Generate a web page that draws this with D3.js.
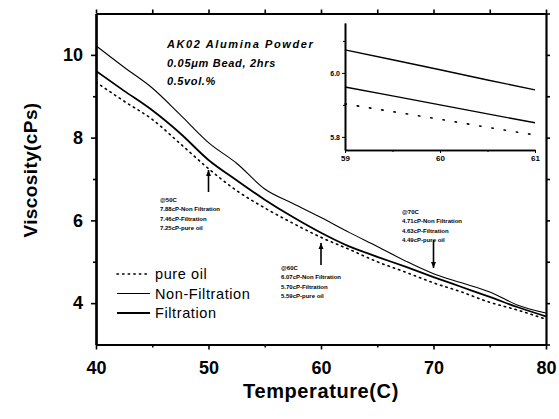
<!DOCTYPE html>
<html>
<head>
<meta charset="utf-8">
<script src="https://cdn.jsdelivr.net/npm/d3@7"></script>
<style>
  body { margin: 0; background: #fff; }
  svg { font-family: Arial, "Liberation Sans", sans-serif; }
  .tick text { font-weight: bold; }
</style>
</head>
<body>
<svg id="chart" width="559" height="419"></svg>
<script>
// DATA
const temps = [40, 42.5, 45, 47.5, 50, 52.5, 55, 57.5, 60, 62.5, 65, 67.5, 70, 72.5, 75, 77.5, 80];
const nonFiltration = [10.22, 9.70, 9.20, 8.55, 7.88, 7.38, 6.76, 6.41, 6.07, 5.71, 5.37, 5.02, 4.71, 4.49, 4.27, 3.95, 3.76];
const filtration = [9.61, 9.13, 8.66, 8.10, 7.46, 6.97, 6.50, 6.08, 5.70, 5.37, 5.12, 4.88, 4.63, 4.39, 4.15, 3.90, 3.68];
const pureOil = [9.34, 8.88, 8.44, 7.85, 7.25, 6.72, 6.30, 5.93, 5.59, 5.30, 5.00, 4.75, 4.49, 4.27, 4.02, 3.83, 3.61];

// inset (zoom around 60C)
const insetTemps = [59, 59.5, 60, 60.5, 61];
const insetNonFiltration = [6.072, 6.041, 6.010, 5.978, 5.947];
const insetFiltration = [5.956, 5.928, 5.900, 5.872, 5.844];
const insetPureOil = [5.903, 5.879, 5.855, 5.830, 5.806];

const xTicks = [40, 50, 60, 70, 80];
const yTicks = [4, 6, 8, 10];
const insetXTicks = [59, 60, 61];
const insetYTicks = [5.8, 6.0];

const legendNames = ["pure oil", "Non-Filtration", "Filtration"];
const infoLines = ["AK02 Alumina Powder", "0.05\u03bcm Bead, 2hrs", "0.5vol.%"];

const notes = [
  { t: 50, dir: "up", lines: ["@50C", "7.88cP-Non Filtration", "7.46cP-Filtration", "7.25cP-pure oil"] },
  { t: 60, dir: "up", lines: ["@60C", "6.07cP-Non Filtration", "5.70cP-Filtration", "5.59cP-pure oil"] },
  { t: 70, dir: "down", lines: ["@70C", "4.71cP-Non Filtration", "4.63cP-Filtration", "4.49cP-pure oil"] }
];

// SETUP
const plot = { left: 96, right: 546, top: 13.5, bottom: 344.5 };
const svg = d3.select("#chart");

const x = d3.scaleLinear().domain([40, 80]).range([plot.left, plot.right]);
const y = d3.scaleLinear().domain([3, 11]).range([plot.bottom, plot.top]);

svg.append("defs").append("clipPath").attr("id", "clip")
  .append("rect")
  .attr("x", plot.left).attr("y", plot.top)
  .attr("width", plot.right - plot.left).attr("height", plot.bottom - plot.top);

// series styles
const series = [
  { name: "pure oil", values: pureOil, inset: insetPureOil, width: 1.6, dash: "1.4,4.2" },
  { name: "Non-Filtration", values: nonFiltration, inset: insetNonFiltration, width: 1.1, dash: null },
  { name: "Filtration", values: filtration, inset: insetFiltration, width: 1.8, dash: null }
];

const line = d3.line()
  .curve(d3.curveMonotoneX)
  .x(d => x(d[0]))
  .y(d => y(d[1]));

const lines = svg.append("g").attr("clip-path", "url(#clip)");
series.forEach(s => {
  lines.append("path")
    .datum(temps.map((t, i) => [t, s.values[i]]))
    .attr("d", line)
    .attr("fill", "none")
    .attr("stroke", "#000")
    .attr("stroke-width", s.width)
    .attr("stroke-dasharray", s.dash)
    .attr("stroke-linecap", s.dash ? "round" : "butt");
});

// AXES (ticks outward on all four sides)
function styleAxis(g) {
  g.select(".domain").attr("stroke-width", 2.2);
  g.selectAll(".tick line").attr("stroke-width", 1.6);
}

svg.append("g")
  .attr("transform", `translate(0,${plot.bottom})`)
  .call(d3.axisBottom(x).tickValues(xTicks).tickSize(5).tickSizeOuter(0).tickPadding(12))
  .call(styleAxis)
  .selectAll("text").attr("font-size", 18);

svg.append("g")
  .attr("transform", `translate(0,${plot.bottom})`)
  .call(d3.axisBottom(x).tickValues([45, 55, 65, 75]).tickSize(3).tickSizeOuter(0).tickFormat(""))
  .call(styleAxis);

svg.append("g")
  .attr("transform", `translate(0,${plot.top})`)
  .call(d3.axisTop(x).tickValues(d3.range(40, 81, 5)).tickSize(4).tickSizeOuter(0).tickFormat(""))
  .call(styleAxis);

svg.append("g")
  .attr("transform", `translate(${plot.left},0)`)
  .call(d3.axisLeft(y).tickValues(yTicks).tickSize(5).tickSizeOuter(0).tickPadding(8))
  .call(styleAxis)
  .selectAll("text").attr("font-size", 18);

svg.append("g")
  .attr("transform", `translate(${plot.left},0)`)
  .call(d3.axisLeft(y).tickValues([5, 7, 9]).tickSize(3).tickSizeOuter(0).tickFormat(""))
  .call(styleAxis);

svg.append("g")
  .attr("transform", `translate(${plot.right},0)`)
  .call(d3.axisRight(y).tickValues(d3.range(3, 12, 1)).tickSize(4).tickSizeOuter(0).tickFormat(""))
  .call(styleAxis);

// axis labels
svg.append("text")
  .attr("x", 321).attr("y", 398)
  .attr("text-anchor", "middle")
  .attr("font-size", 20).attr("font-weight", "bold")
  .attr("letter-spacing", 0.6)
  .text("Temperature(C)");

svg.append("text")
  .attr("transform", "translate(37,170) rotate(-90)")
  .attr("text-anchor", "middle")
  .attr("font-size", 19).attr("font-weight", "bold")
  .attr("letter-spacing", 0.4)
  .text("Viscosity(cPs)");

// info text
const infoSpacing = [1.6, 0.7, 0.6];
svg.selectAll(".info")
  .data(infoLines)
  .enter().append("text")
  .attr("class", "info")
  .attr("x", 167)
  .attr("y", (d, i) => 48 + i * 18.5)
  .attr("font-size", 11).attr("font-style", "italic").attr("font-weight", "bold")
  .attr("letter-spacing", (d, i) => infoSpacing[i])
  .text(d => d);

// legend
const legend = svg.append("g");
series.forEach((s, i) => {
  const ly = 274 + i * 19.5;
  legend.append("line")
    .attr("x1", 117).attr("x2", 150).attr("y1", ly).attr("y2", ly)
    .attr("stroke", "#000")
    .attr("stroke-width", s.width)
    .attr("stroke-dasharray", s.dash)
    .attr("stroke-linecap", s.dash ? "round" : "butt");
  legend.append("text")
    .attr("x", 155).attr("y", ly + 5)
    .attr("font-size", 14.5)
    .attr("letter-spacing", 0.6)
    .text(legendNames[i]);
});

// annotations with arrows
const notePos = {
  50: { tx: 160, ty: 200, top: 170, bottom: 192 },
  60: { tx: 281, ty: 268, top: 243, bottom: 265 },
  70: { tx: 402, ty: 212, top: 240, bottom: 268 }
};
notes.forEach(n => {
  const p = notePos[n.t];
  const ax = x(n.t);
  svg.append("line")
    .attr("x1", ax).attr("x2", ax)
    .attr("y1", p.top).attr("y2", p.bottom)
    .attr("stroke", "#000").attr("stroke-width", 1.6);
  const tipY = n.dir === "up" ? p.top : p.bottom;
  const s = n.dir === "up" ? 1 : -1;
  svg.append("path")
    .attr("d", `M${ax},${tipY} L${ax - 2.5},${tipY + s * 6} L${ax + 2.5},${tipY + s * 6} Z`)
    .attr("fill", "#000");
  svg.append("g").selectAll("text")
    .data(n.lines)
    .enter().append("text")
    .attr("x", p.tx)
    .attr("y", (d, i) => p.ty + 2 + i * 9.3)
    .attr("font-size", 6).attr("font-weight", "bold")
    .text(d => d);
});

// INSET
const ix = d3.scaleLinear().domain([59, 61]).range([345, 535]);
const iy = d3.scaleLinear().domain([5.759, 6.156]).range([150, 23]);
const iline = d3.line().x(d => ix(d[0])).y(d => iy(d[1]));

series.forEach(s => {
  svg.append("path")
    .datum(insetTemps.map((t, i) => [t, s.inset[i]]))
    .attr("d", iline)
    .attr("fill", "none")
    .attr("stroke", "#000")
    .attr("stroke-width", s.dash ? 1.6 : 1.4)
    .attr("stroke-dasharray", s.dash ? "1.4,11" : null)
    .attr("stroke-linecap", s.dash ? "round" : "butt");
});

const insetX = svg.append("g")
  .attr("transform", "translate(0,150)")
  .call(d3.axisBottom(ix).tickValues(insetXTicks).tickSize(3).tickSizeOuter(0).tickPadding(2).tickFormat(d3.format("d")));
insetX.selectAll("text").attr("font-size", 8);
insetX.select(".domain").attr("stroke-width", 1.6);

svg.append("g")
  .attr("transform", "translate(0,150)")
  .call(d3.axisBottom(ix).tickValues([59.5, 60.5]).tickSize(2).tickSizeOuter(0).tickFormat(""))
  .select(".domain").attr("stroke-width", 1.6);

const insetY = svg.append("g")
  .attr("transform", "translate(345,0)")
  .call(d3.axisLeft(iy).tickValues(insetYTicks).tickSize(3).tickSizeOuter(0).tickPadding(2).tickFormat(d3.format(".1f")));
insetY.selectAll("text").attr("font-size", 7);
insetY.select(".domain").attr("stroke-width", 1.6);

svg.append("g")
  .attr("transform", "translate(345,0)")
  .call(d3.axisLeft(iy).tickValues([5.9, 6.1]).tickSize(2).tickSizeOuter(0).tickFormat(""))
  .select(".domain").attr("stroke-width", 1.6);
</script>
</body>
</html>
